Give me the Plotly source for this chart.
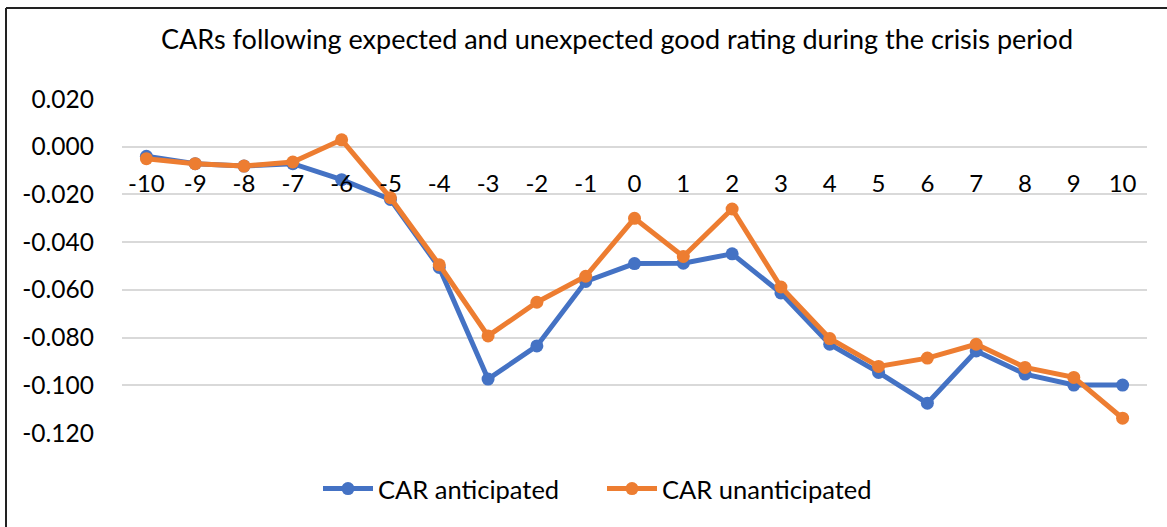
import plotly.graph_objects as go

categories = [str(i) for i in range(-10, 11)]
car_anticipated = [-0.0040, -0.0071, -0.0081, -0.0071, -0.0138, -0.0221, -0.0506, -0.0974, -0.0835, -0.0565,
                   -0.0490, -0.0488, -0.0449, -0.0613, -0.0828, -0.0946, -0.1075, -0.0856, -0.0953, -0.0999, -0.0999]
car_unanticipated = [-0.0050, -0.0071, -0.0081, -0.0064, 0.0029, -0.0214, -0.0495, -0.0793, -0.0652, -0.0543,
                     -0.0300, -0.0460, -0.0261, -0.0588, -0.0804, -0.0921, -0.0886, -0.0828, -0.0925, -0.0967, -0.1138]
y_ticks = [0.02, 0.0, -0.02, -0.04, -0.06, -0.08, -0.10, -0.12]
y_ticktext = ["0.020", "0.000", "-0.020", "-0.040", "-0.060", "-0.080", "-0.100", "-0.120"]

FONT = "Lato"
BLUE = "#4472C4"
ORANGE = "#ED7D31"

fig = go.Figure()
fig.add_trace(go.Scatter(x=categories, y=car_anticipated, mode="lines+markers", name="CAR anticipated",
                         line=dict(color=BLUE, width=5), marker=dict(color=BLUE, size=13)))
fig.add_trace(go.Scatter(x=categories, y=car_unanticipated, mode="lines+markers", name="CAR unanticipated",
                         line=dict(color=ORANGE, width=5), marker=dict(color=ORANGE, size=13)))

L, R, T, B = 122, 1147, 99, 433
W, H = 1167, 527
fig.update_layout(
    width=W, height=H,
    margin=dict(l=L, r=W - R, t=T, b=H - B, pad=0),
    paper_bgcolor="white", plot_bgcolor="white",
    font=dict(family=FONT, size=22, color="black"),
    title=dict(text="CARs following expected and unexpected good rating during the crisis period",
               x=617 / W, xanchor="center", y=1 - 40 / H, yanchor="middle",
               font=dict(family=FONT, size=27, color="black")),
    showlegend=True,
    legend=dict(orientation="h", x=(318 - L) / (R - L), xanchor="left", y=(B - 489) / (B - T), yanchor="middle",
                font=dict(family=FONT, size=25.5, color="black"), itemwidth=50, tracegroupgap=0,
                entrywidth=219, entrywidthmode="pixels",
                bgcolor="rgba(0,0,0,0)"),
    xaxis=dict(type="category", range=[-0.5, len(categories) - 0.5], showgrid=False, zeroline=False,
               showline=False, ticks="", anchor="free", position=(B - 167) / (B - T),
               tickfont=dict(family=FONT, size=24, color="black")),
    yaxis=dict(range=[-0.12, 0.02], tickvals=y_ticks, ticktext=y_ticktext, showgrid=True,
               gridcolor="#D9D9D9", gridwidth=1.5, zeroline=False, showline=False, ticks="",
               ticklabelstandoff=27,
               tickfont=dict(family=FONT, size=24.5, color="black")),
)

# chart frame border
px = lambda x: (x - L) / (R - L)
py = lambda y: (B - y) / (B - T)
fig.add_shape(type="line", xref="paper", yref="paper", x0=px(6), x1=px(1167), y0=py(8), y1=py(8),
              line=dict(color="#222222", width=2))
fig.add_shape(type="line", xref="paper", yref="paper", x0=px(6), x1=px(6), y0=py(8), y1=py(527),
              line=dict(color="#222222", width=2))

fig.write_html("out.html", config={"displayModeBar": False},
               post_script="document.body.style.margin='0';")
